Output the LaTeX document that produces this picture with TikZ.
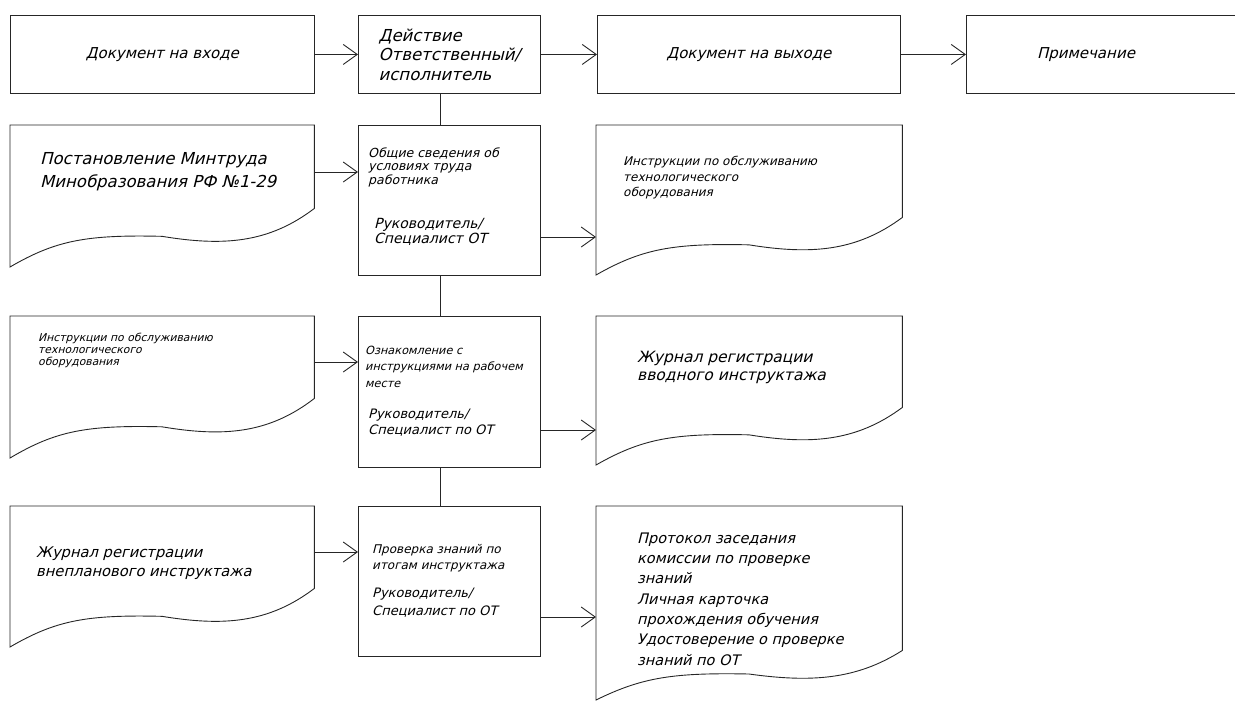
\documentclass[tikz,border=0pt]{standalone}
\usepackage{fontspec}
\setmainfont{DejaVu Sans}[FakeSlant=0.25]
\usetikzlibrary{arrows.meta}

\newcommand{\fsz}[2]{\fontsize{#1}{#2}\selectfont}

\tikzset{
  line/.style={line width=0.9pt, draw=black!85},
  arr/.style={line, -{Straight Barb[length=14pt, width=20pt, line width=0.9pt]}},
  hbox/.style={line, draw, anchor=north west, minimum height=78pt, inner sep=0pt, font=\fsz{15}{19.5}},
  actbox/.style={line, draw, anchor=north west, minimum width=182pt, inner sep=0pt},
  docarea/.style={anchor=north west, inner sep=0pt},
  txt/.style={anchor=west, align=left, inner sep=0pt}
}

% document with a wavy lower edge: name, left, top, right, right bottom, left bottom
\newcommand{\docshape}[6]{%
  \node[docarea, minimum width={(#4-#2)*1pt}, minimum height={(#5-#3)*1pt}] (#1) at (#2,#3) {};
  \draw[line] (#1.north west) -- (#1.north east) -- (#1.south east)
    .. controls ({#2+0.85*(#4-#2)},{#6-0.4*(#6-#5)}) and ({#2+0.7*(#4-#2)},{#6-0.35*(#6-#5)}) .. ({#2+0.5*(#4-#2)},{#6-0.52*(#6-#5)})
    .. controls ({#2+0.25*(#4-#2)},{#6-0.55*(#6-#5)}) and ({#2+0.15*(#4-#2)},{#6-0.45*(#6-#5)}) .. (#2,#6) -- cycle;
}

\begin{document}
\begin{tikzpicture}[x=1pt, y=-1pt]
\useasboundingbox (0,0) rectangle (1235,702);

% header row
\node[hbox, minimum width=304pt] (h1) at (10,15) {Документ на входе};
\node[hbox, minimum width=182pt, align=left, font=\fsz{16.5}{19.5}] (h2) at (358,15) {Действие\\Ответственный/\\исполнитель};
\node[hbox, minimum width=303pt] (h3) at (597,15) {Документ на выходе};
\node[hbox, minimum width=300pt] (h4) at (966,15) {};
\node[font=\fsz{15}{19.5}, inner sep=0pt] (h4t) at (1086,55) {Примечание};
\draw[arr] (h1) -- (h2);
\draw[arr] (h2) -- (h3);
\draw[arr] (h3.east) -- (h4.west);

% action boxes
\node[actbox, minimum height=150pt] (act1) at (358,125) {};
\node[actbox, minimum height=151pt] (act2) at (358,316) {};
\node[actbox, minimum height=150pt] (act3) at (358,506) {};
\coordinate (spine) at (440,0);
\draw[line] (h2.south -| spine) -- (act1.north -| spine);
\draw[line] (act1.south -| spine) -- (act2.north -| spine);
\draw[line] (act2.south -| spine) -- (act3.north -| spine);

% row 1
\docshape{dl1}{10}{125}{314}{208}{267}
\docshape{dr1}{596}{125}{902}{217}{275}
\node[txt, font=\fsz{16.5}{23}] (dl1t) at (40,172) {Постановление Минтруда\\Минобразования РФ №1-29};
\node[txt, font=\fsz{12.5}{13.5}] (act1t) at (368,167) {Общие сведения об\\условиях труда\\работника};
\node[txt, font=\fsz{14}{15.5}] (act1w) at (374,232) {Руководитель/\\Специалист ОТ};
\node[txt, font=\fsz{12}{15.5}] (dr1t) at (623,178) {Инструкции по обслуживанию\\технологического\\оборудования};
\coordinate (act1in) at (act1.west |- 0,172);
\coordinate (act1out) at (act1.east |- 0,237);
\draw[arr] (dl1.east |- act1in) -- (act1in);
\draw[arr] (act1out) -- (act1out -| dr1.west);

% row 2
\docshape{dl2}{10}{316}{314}{398}{458}
\docshape{dr2}{596}{316}{902}{407}{465}
\node[txt, font=\fsz{10.8}{12}] (dl2t) at (38,350) {Инструкции по обслуживанию\\технологического\\оборудования};
\node[txt, font=\fsz{11.3}{16.5}] (act2t) at (365,366.5) {Ознакомление с\\инструкциями на рабочем\\месте};
\node[txt, font=\fsz{13}{16}] (act2w) at (368,423) {Руководитель/\\Специалист по ОТ};
\node[txt, font=\fsz{15.5}{18}] (dr2t) at (637,367) {Журнал регистрации\\вводного инструктажа};
\coordinate (act2in) at (act2.west |- 0,362);
\coordinate (act2out) at (act2.east |- 0,430);
\draw[arr] (dl2.east |- act2in) -- (act2in);
\draw[arr] (act2out) -- (act2out -| dr2.west);

% row 3
\docshape{dl3}{10}{506}{314}{588}{647}
\docshape{dr3}{596}{506}{902}{650}{700}
\node[txt, font=\fsz{14.7}{19}] (dl3t) at (36,563) {Журнал регистрации\\внепланового инструктажа};
\node[txt, font=\fsz{12}{16}] (act3t) at (372,558) {Проверка знаний по\\итогам инструктажа};
\node[txt, font=\fsz{13}{18}] (act3w) at (372,603) {Руководитель/\\Специалист по ОТ};
\node[txt, font=\fsz{14.5}{20.3}] (dr3t) at (637,599) {Протокол заседания\\комиссии по проверке\\знаний\\Личная карточка\\прохождения обучения\\Удостоверение о проверке\\знаний по ОТ};
\coordinate (act3in) at (act3.west |- 0,552);
\coordinate (act3out) at (act3.east |- 0,617);
\draw[arr] (dl3.east |- act3in) -- (act3in);
\draw[arr] (act3out) -- (act3out -| dr3.west);
\end{tikzpicture}
\end{document}
